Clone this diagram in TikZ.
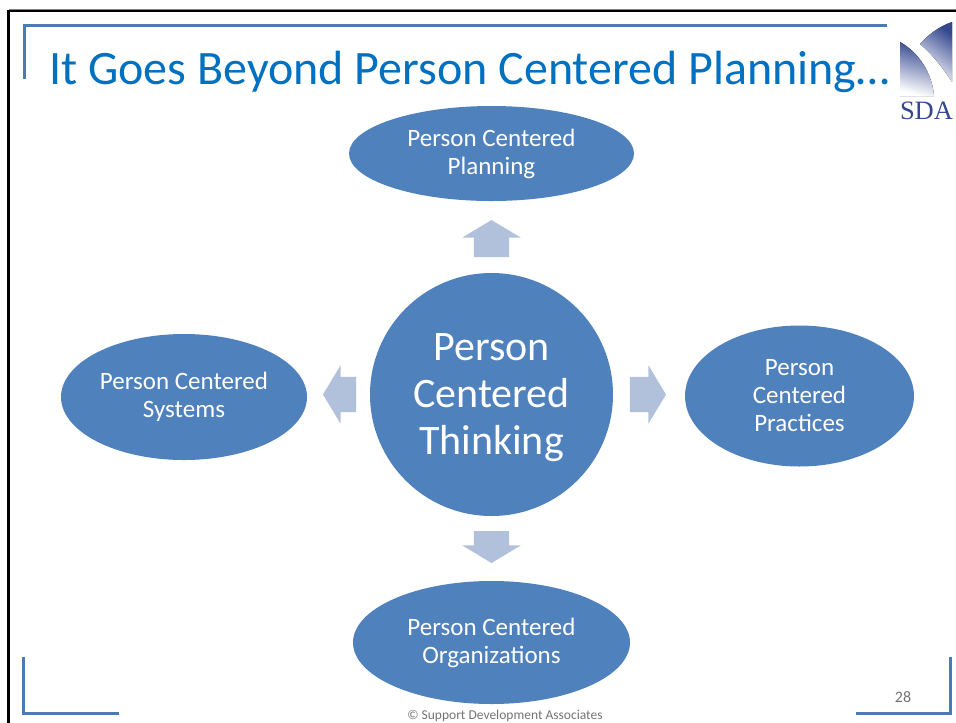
\documentclass[tikz,border=0pt]{standalone}
\usepackage{tikz}
\usepackage{xcolor}
\usepackage{fontspec}
\setmainfont{Carlito}
\newfontfamily\logofont{Liberation Serif}
\usetikzlibrary{shapes,arrows}
\definecolor{blobBlue}{HTML}{4F81BD}
\definecolor{arrowBlue}{HTML}{B2C1DB}
\definecolor{titleBlue}{HTML}{0070C0}
\definecolor{logoBlue}{HTML}{34478F}

\begin{document}
\begin{tikzpicture}[x=1pt,y=-1pt,
    blob/.style ={ellipse, fill=blobBlue, text=white, inner sep=0pt,
      align=center, anchor=center, font=\fontsize{25}{28}\selectfont},
    hub/.style ={blob, text height=128pt, font=\fontsize{42}{47}\selectfont},
    flow/.style ={single arrow, fill=arrowBlue, inner sep=0pt, anchor=center,
      text height=35pt, text depth=0pt,
      single arrow head indent=0pt, single arrow tip angle=118,
      single arrow head extend=11.5pt},
    bracket/.style ={draw=blobBlue!95!black, line width=3pt}]
    \useasboundingbox (0,0) rectangle (956,723);
    % slide edge
    \draw [gray, line width=1pt] (9.5,723) -- (9.5,9.5) -- (956,9.5);
    \draw [black, line width=2.5pt] (8.5,723) -- (8.5,11) -- (956,11);
    % corner brackets
    \draw [bracket] (24.5,79) -- (24.5,25) -- (887,25);
    \draw [bracket] (23.5,657) -- (23.5,713.5) -- (119,713.5);
    \draw [bracket] (856,713.5) -- (950,713.5) -- (950,657);
    % logo
    \fill [top color=logoBlue, middle color=logoBlue!85, bottom color=white, shading angle=-15]
      (900,42) .. controls (918,52) and (932,72) .. (934,96) -- (900,96) -- cycle;
    \fill [top color=logoBlue, bottom color=white, shading angle=-35]
      (952,22) .. controls (938,27) and (928,35) .. (920,44)
      .. controls (932,54) and (943,68) .. (952,82) -- cycle;
    \node [text=logoBlue, font=\logofont\fontsize{26.5}{26}\selectfont, inner sep=0pt]
      (logoName) at (926.5,110.5) {SDA};
    % heading and footer
    \node [text=titleBlue, font=\fontsize{48}{48}\selectfont, anchor=base west, inner sep=0pt]
      (heading) at (49,84) {It Goes Beyond Person Centered Planning…};
    \node [text=black!55, font=\fontsize{16}{16}\selectfont, inner sep=0pt] (pageNum) at (903,697) {28};
    \node [text=black!55, font=\fontsize{13.5}{14}\selectfont, inner sep=0pt] (footer) at (505,715.5)
      {© Support Development Associates};
    % the chart as a matrix
    \matrix (chart) at (487.5,405) {
      % planning - row 1
      &[16pt] &[-7pt]
      \node [blob, minimum width=285pt, minimum height=95pt] (planning) {Person Centered\\Planning}; &[-4pt] &[19pt] \\[19pt]
      % arrow - row 2
      &[16pt] &[-7pt]
      \node [flow, rotate=90, minimum height=37pt] (toPlanning) {}; &[-4pt] &[19pt] \\[16pt]
      % hub - row 3
      \node [blob, yshift=-2.5pt, minimum width=246pt, minimum height=126pt] (systems) {Person Centered\\Systems}; &[16pt]
      \node [flow, rotate=180, minimum height=33pt] (toSystems) {}; &[-7pt]
      \node [hub, circle, minimum size=243pt] (thinking) {Person\\Centered\\Thinking}; &[-4pt]
      \node [flow, minimum height=36pt] (toPractices) {}; &[19pt]
      \node [blob, yshift=-1.5pt, minimum width=229pt, minimum height=141pt] (practices) {Person\\Centered\\Practices}; \\[15pt]
      % arrow - row 4
      &[16pt] &[-7pt]
      \node [flow, rotate=-90, minimum height=32pt] (toOrgs) {}; &[-4pt] &[19pt] \\[18pt]
      % organizations - row 5
      &[16pt] &[-7pt]
      \node [blob, minimum width=277pt, minimum height=123pt] (orgs) {Person Centered\\Organizations}; &[-4pt] &[19pt] \\
    };% end matrix
\end{tikzpicture}
\end{document}
